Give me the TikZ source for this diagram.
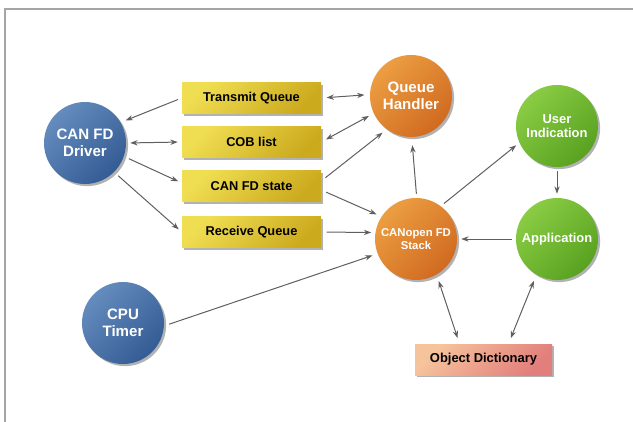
\documentclass[tikz,border=0pt]{standalone}
\usepackage{fontspec}
\setmainfont{Liberation Sans}
\usetikzlibrary{arrows.meta,shadows,calc}
\definecolor{blueA}{RGB}{100,140,190}
\definecolor{blueB}{RGB}{52,92,148}
\definecolor{orA}{RGB}{236,158,66}
\definecolor{orB}{RGB}{208,106,32}
\definecolor{grA}{RGB}{138,204,68}
\definecolor{grB}{RGB}{88,162,32}
\definecolor{yeA}{RGB}{240,222,82}
\definecolor{yeB}{RGB}{204,170,30}
\definecolor{odA}{RGB}{246,196,156}
\definecolor{odB}{RGB}{226,126,124}
\definecolor{arrgray}{RGB}{95,95,95}
\definecolor{framegray}{RGB}{165,165,165}
\tikzset{
  shad/.style={drop shadow={shadow xshift=1.6pt,shadow yshift=-1.6pt,fill=black!55,opacity=0.55}},
  circ/.style={circle, minimum size=61.5pt, inner sep=0pt, align=center, text=white,
    font=\bfseries\fontsize{11.3}{12.8}\selectfont, shad, shading angle=45},
  blueball/.style={circ, top color=blueA, bottom color=blueB, shading angle=45},
  orangeball/.style={circ, top color=orA, bottom color=orB, shading angle=45},
  greenball/.style={circ, top color=grA, bottom color=grB, shading angle=45,
    font=\bfseries\fontsize{9.7}{10.5}\selectfont},
  ybox/.style={rectangle, minimum width=104.25pt, minimum height=23.25pt, inner sep=0pt,
    font=\bfseries\fontsize{9.6}{11}\selectfont, shad, top color=yeA, bottom color=yeB, shading angle=45},
  odbox/.style={ybox, minimum width=102.75pt, top color=odA, bottom color=odB, shading angle=45,
    font=\bfseries\fontsize{9.7}{11}\selectfont},
  conn/.style={draw=arrgray, line width=0.75pt, -{Stealth[length=5.5pt,width=4pt]},
    shorten <=3pt, shorten >=3pt},
  dconn/.style={conn, {Stealth[length=5.5pt,width=4pt]}-{Stealth[length=5.5pt,width=4pt]}}
}
\begin{document}
\begin{tikzpicture}[x=0.75pt,y=-0.75pt]
\useasboundingbox (0,0) rectangle (633,422);
\draw[framegray, line width=1.6pt] (5,422) -- (5,9) -- (633,9);

\node[blueball] (drv) at (85,143) {CAN FD\\Driver};
\node[blueball] (cpu) at (123,323) {CPU\\Timer};
\node[orangeball] (qh) at (411,96) {Queue\\Handler};
\node[orangeball, font=\bfseries\fontsize{8.5}{10}\selectfont] (stk) at (416,239) {CANopen FD\\Stack};
\node[greenball] (ui) at (557,126) {User\\Indication};
\node[greenball] (app) at (557,239) {Application};
\node[ybox] (tq) at (251.5,98) {Transmit Queue};
\node[ybox] (cob) at (251.5,142) {COB list};
\node[ybox] (st) at (251.5,186) {CAN FD state};
\node[ybox] (rq) at (251.5,232) {Receive Queue};
\node[odbox] (od) at (483.5,359.5) {Object Dictionary};

\draw[conn, shorten >=4pt] (tq.west) -- (drv.30);
\draw[dconn] (drv.east) -- (cob.west);
\draw[conn, shorten <=4pt] (drv.-19) -- ($(st.west)+(0,-3)$);
\draw[conn, shorten <=4pt] (drv.-45) -- (rq.west);
\draw[dconn, shorten <=4pt, shorten >=4pt] (tq.east) -- (qh.178);
\draw[dconn, shorten <=4pt, shorten >=4pt] (cob.east) -- (qh.205);
\draw[conn, shorten <=4pt, shorten >=4pt] ($(st.east)+(0,-5)$) -- (qh.234);
\draw[conn, shorten <=4pt, shorten >=4pt] ($(st.east)+(0,4)$) -- (stk.147);
\draw[conn, shorten <=4pt, shorten >=3pt] (rq.east) -- (stk.171);
\draw[conn, shorten <=4pt, shorten >=4pt] (cpu.-4) -- (stk.201);
\draw[conn, shorten <=3pt, shorten >=6pt] (stk.89) -- (qh.-89);
\draw[conn] (stk.53) -- (ui.204);
\draw[conn] (ui.south) -- (app.north);
\draw[conn] (app.west) -- (stk.east);
\draw[dconn, shorten <=5pt, shorten >=4.5pt] (stk.-60) -- ($(od.north)+(-24,0)$);
\draw[dconn, shorten <=5pt, shorten >=4.5pt] (app.240) -- ($(od.north)+(25,0)$);
\end{tikzpicture}
\end{document}
